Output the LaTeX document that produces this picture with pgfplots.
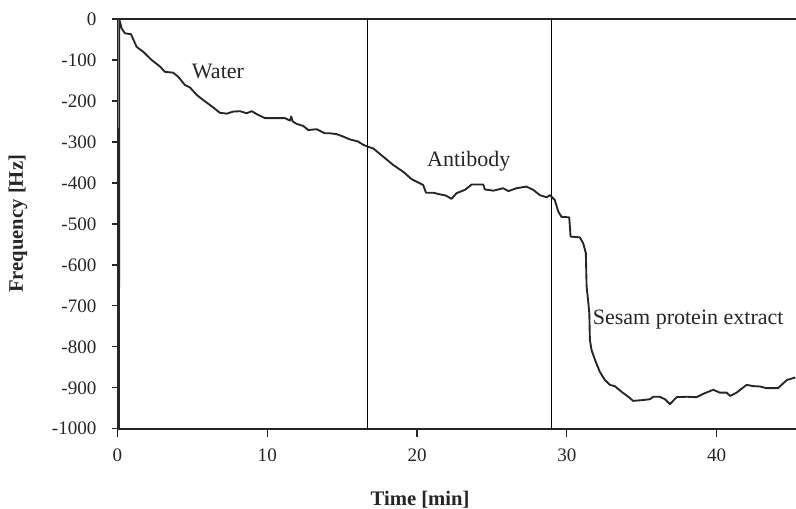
\documentclass[border=0pt]{standalone}
\usepackage{fontspec}
\setmainfont{Liberation Serif}
\usepackage{pgfplots}
\pgfplotsset{compat=1.18}
\begin{document}
\begin{tikzpicture}
\begin{axis}[
  scale only axis,
  width=508.9pt, height=307.3pt,
  xmin=0, xmax=45.3, ymin=-1000, ymax=0,
  axis x line=box, axis y line=left,
  axis line style={-, line width=1.2pt, black!85},
  xtick={0,10,20,30,40}, ytick={-1000,-900,...,0},
  xtick pos=bottom, ytick pos=left,
  tick align=outside,
  tick style={line width=1pt, black!85},
  xtick style={/pgfplots/major tick length=6pt},
  ytick style={/pgfplots/major tick length=4pt},
  /pgf/number format/assume math mode=true,
  /pgf/number format/1000 sep={},
  ticklabel style={font=\fontsize{14.3}{17}\selectfont, text=black!85},
  yticklabel style={xshift=-8pt},
  xticklabel shift=7pt,
  clip=false,
]
\coordinate (sw) at (rel axis cs:0,0);
\coordinate (ne) at (rel axis cs:1,1);
\addplot[black, line width=0.6pt] coordinates {(16.7,-1000) (16.7,0)};
\addplot[black, line width=0.6pt] coordinates {(28.95,-1000) (28.95,0)};
\addplot[black!85, line width=1.4pt, line join=round] table {
t f
0.1 -1000
0.12 0
0.28 -23
0.5 -35
0.9 -37
1.28 -68
1.72 -80
2.28 -100
2.84 -116
3.17 -129
3.72 -131
4.06 -141
4.5 -161
4.84 -167
5.28 -185
5.73 -198
6.4 -216
6.84 -229
7.3 -231
7.73 -226
8.18 -225
8.62 -230
8.96 -225
9.29 -232
9.85 -242
11.18 -242
11.52 -248
11.6 -238
11.7 -250
11.96 -256
12.4 -261
12.74 -271
13.3 -269
13.63 -275
13.85 -279
14.19 -279
14.63 -281
15.07 -287
15.52 -294
16.07 -299
16.4 -307
16.74 -312
17.08 -316
17.74 -336
18.4 -356
19.08 -373
19.64 -391
20.41 -405
20.6 -424
21.08 -424
21.53 -428
21.93 -431
22.3 -439
22.64 -425
23.2 -417
23.64 -404
24.42 -404
24.53 -416
25.1 -419
25.75 -413
26.1 -420
26.65 -413
27.3 -409
27.76 -417
28.2 -430
28.65 -435
28.87 -430
29.2 -442
29.43 -470
29.65 -483
30.16 -484
30.25 -531
30.87 -533
31.1 -548
31.27 -572
31.32 -653
31.43 -690
31.5 -718
31.54 -783
31.65 -808
31.88 -832
32.2 -861
32.54 -881
32.88 -893
33.2 -896
33.66 -910
34.1 -922
34.43 -932
35.1 -930
35.55 -928
35.77 -922
36.2 -922
36.55 -928
36.88 -940
37.33 -923
38 -922
38.66 -923
39.1 -915
39.77 -905
40.22 -912
40.67 -912
40.9 -920
41.33 -912
42.0 -893
42.45 -896
42.9 -897
43.33 -901
44.1 -901
44.45 -889
44.7 -881
45.25 -875
};
\node[font=\fontsize{16.5}{19}\selectfont, text=black!85] at (axis cs:6.71,-127) {Water};
\node[font=\fontsize{16.5}{19}\selectfont, text=black!85] at (axis cs:23.45,-347) {Antibody};
\node[font=\fontsize{16.5}{19}\selectfont, text=black!85] at (axis cs:38.1,-733) {Sesam protein extract};
\path (rel axis cs:0.446,0) ++(0pt,-53.5pt) node[font=\fontsize{15.5}{18}\selectfont\bfseries, text=black!85, anchor=center] {Time [min]};
\path (rel axis cs:0,0.5) ++(-74.6pt,0pt) node[font=\fontsize{15.5}{18}\selectfont\bfseries, text=black!85, anchor=center, rotate=90] {Frequency [Hz]};
\end{axis}
\pgfresetboundingbox
\path (sw) ++(-88.1pt,-60.2pt) coordinate (a);
\path (ne) ++(0pt,14.25pt) coordinate (b);
\useasboundingbox (a) rectangle (b);
\end{tikzpicture}
\end{document}
